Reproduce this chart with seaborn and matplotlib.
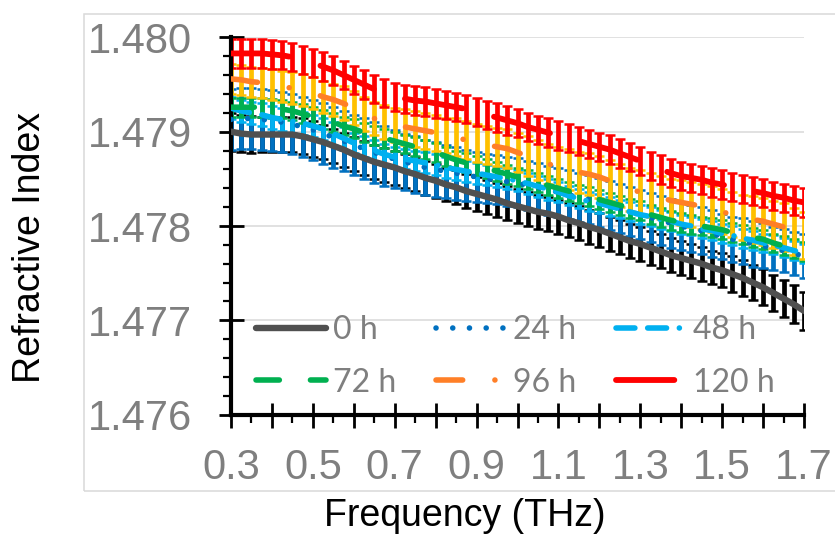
import numpy as np
import pandas as pd
import seaborn as sns
import matplotlib.pyplot as plt
from matplotlib.patches import Rectangle
from matplotlib.ticker import MultipleLocator

# frequency grid (THz)
freq = [0.300, 0.325, 0.350, 0.375, 0.400, 0.425, 0.450, 0.475, 0.500, 0.525,
        0.550, 0.575, 0.600, 0.625, 0.650, 0.675, 0.700, 0.725, 0.750, 0.775,
        0.800, 0.825, 0.850, 0.875, 0.900, 0.925, 0.950, 0.975, 1.000, 1.025,
        1.050, 1.075, 1.100, 1.125, 1.150, 1.175, 1.200, 1.225, 1.250, 1.275,
        1.300, 1.325, 1.350, 1.375, 1.400, 1.425, 1.450, 1.475, 1.500, 1.525,
        1.550, 1.575, 1.600, 1.625, 1.650, 1.675, 1.700]

# mean refractive index per series
n_0h = [1.47900, 1.47898, 1.47897, 1.47897, 1.47897, 1.47897, 1.47897, 1.47895, 1.47892, 1.47889,
        1.47885, 1.47881, 1.47876, 1.47872, 1.47868, 1.47865, 1.47862, 1.47858, 1.47855, 1.47851,
        1.47848, 1.47844, 1.47841, 1.47837, 1.47834, 1.47831, 1.47828, 1.47824, 1.47821, 1.47818,
        1.47815, 1.47813, 1.47810, 1.47806, 1.47803, 1.47799, 1.47796, 1.47792, 1.47788, 1.47784,
        1.47781, 1.47777, 1.47773, 1.47769, 1.47766, 1.47763, 1.47760, 1.47756, 1.47753, 1.47749,
        1.47745, 1.47740, 1.47735, 1.47729, 1.47723, 1.47717, 1.47710]
n_24h = [1.47913, 1.47914, 1.47914, 1.47913, 1.47912, 1.47910, 1.47908, 1.47905, 1.47902, 1.47898,
         1.47894, 1.47890, 1.47886, 1.47882, 1.47878, 1.47874, 1.47871, 1.47868, 1.47865, 1.47862,
         1.47860, 1.47858, 1.47856, 1.47854, 1.47852, 1.47850, 1.47849, 1.47847, 1.47846, 1.47843,
         1.47841, 1.47838, 1.47836, 1.47833, 1.47830, 1.47828, 1.47825, 1.47822, 1.47819, 1.47815,
         1.47812, 1.47809, 1.47806, 1.47803, 1.47800, 1.47797, 1.47795, 1.47792, 1.47789, 1.47786,
         1.47784, 1.47781, 1.47779, 1.47776, 1.47774, 1.47771, 1.47768]
n_48h = [1.47925, 1.47922, 1.47920, 1.47918, 1.47915, 1.47913, 1.47911, 1.47909, 1.47906, 1.47903,
         1.47898, 1.47893, 1.47888, 1.47884, 1.47880, 1.47876, 1.47873, 1.47871, 1.47869, 1.47867,
         1.47865, 1.47862, 1.47860, 1.47858, 1.47856, 1.47854, 1.47852, 1.47850, 1.47848, 1.47845,
         1.47842, 1.47839, 1.47836, 1.47832, 1.47829, 1.47826, 1.47824, 1.47821, 1.47818, 1.47815,
         1.47812, 1.47810, 1.47807, 1.47805, 1.47802, 1.47800, 1.47797, 1.47795, 1.47792, 1.47790,
         1.47787, 1.47785, 1.47782, 1.47780, 1.47777, 1.47774, 1.47771]
n_72h = [1.47926, 1.47926, 1.47926, 1.47926, 1.47925, 1.47924, 1.47922, 1.47919, 1.47916, 1.47913,
         1.47910, 1.47906, 1.47903, 1.47899, 1.47896, 1.47893, 1.47890, 1.47887, 1.47884, 1.47881,
         1.47878, 1.47874, 1.47870, 1.47867, 1.47864, 1.47861, 1.47858, 1.47855, 1.47852, 1.47849,
         1.47846, 1.47843, 1.47840, 1.47837, 1.47834, 1.47831, 1.47828, 1.47825, 1.47822, 1.47819,
         1.47816, 1.47812, 1.47809, 1.47806, 1.47804, 1.47802, 1.47800, 1.47798, 1.47796, 1.47793,
         1.47791, 1.47788, 1.47786, 1.47782, 1.47779, 1.47776, 1.47773]
n_96h = [1.47956, 1.47955, 1.47953, 1.47952, 1.47950, 1.47948, 1.47946, 1.47944, 1.47941, 1.47937,
         1.47934, 1.47930, 1.47925, 1.47919, 1.47914, 1.47910, 1.47907, 1.47905, 1.47903, 1.47901,
         1.47899, 1.47896, 1.47894, 1.47891, 1.47888, 1.47886, 1.47884, 1.47882, 1.47878, 1.47874,
         1.47870, 1.47866, 1.47862, 1.47860, 1.47857, 1.47855, 1.47852, 1.47848, 1.47843, 1.47839,
         1.47836, 1.47833, 1.47830, 1.47827, 1.47825, 1.47823, 1.47821, 1.47818, 1.47815, 1.47812,
         1.47809, 1.47807, 1.47805, 1.47802, 1.47799, 1.47794, 1.47790]
n_120h = [1.47983, 1.47983, 1.47983, 1.47983, 1.47982, 1.47981, 1.47979, 1.47976, 1.47973, 1.47969,
          1.47965, 1.47960, 1.47955, 1.47950, 1.47945, 1.47941, 1.47937, 1.47935, 1.47933, 1.47932,
          1.47930, 1.47928, 1.47926, 1.47924, 1.47921, 1.47918, 1.47915, 1.47912, 1.47909, 1.47905,
          1.47902, 1.47899, 1.47896, 1.47893, 1.47890, 1.47887, 1.47884, 1.47881, 1.47877, 1.47873,
          1.47869, 1.47864, 1.47860, 1.47856, 1.47853, 1.47851, 1.47849, 1.47846, 1.47844, 1.47841,
          1.47839, 1.47837, 1.47835, 1.47832, 1.47830, 1.47827, 1.47825]

# error bar half-heights, in units of 1e-5
err_0h = [20, 20, 20, 19, 19, 19, 19, 19, 19, 18,
          18, 18, 18, 18, 18, 18, 18, 18, 18, 18,
          18, 18, 18, 18, 18, 18, 18, 18, 18, 18,
          18, 18, 18, 18, 18, 18, 18, 18, 18, 18,
          18, 18, 18, 18, 18, 18, 18, 18, 18, 19,
          19, 19, 19, 19, 20, 20, 20]
err_24h = [32, 32, 32, 32, 32, 32, 32, 32, 32, 32,
           32, 32, 32, 32, 32, 32, 31, 30, 30, 29,
           29, 28, 28, 27, 27, 26, 26, 26, 26, 26,
           26, 26, 26, 26, 26, 26, 26, 26, 26, 26,
           26, 26, 26, 26, 25, 25, 25, 25, 24, 24,
           24, 24, 24, 23, 23, 23, 23]
err_48h = [12, 12, 12, 12, 12, 12, 12, 12, 12, 12,
           12, 12, 11, 11, 11, 11, 11, 11, 11, 11,
           11, 11, 11, 11, 11, 11, 11, 11, 11, 11,
           11, 11, 11, 10, 10, 10, 10, 10, 10, 10,
           10, 10, 10, 10, 10, 10, 10, 10, 10, 10,
           10, 10, 10, 10, 10, 10, 10]
err_72h = [10, 10, 10, 10, 10, 10, 10, 10, 10, 10,
           10, 10, 10, 10, 10, 10, 10, 10, 10, 10,
           10, 10, 10, 10, 10, 10, 10, 10, 10, 10,
           10, 10, 10, 10, 10, 10, 10, 10, 10, 10,
           10, 10, 10, 10, 10, 10, 10, 10, 10, 10,
           10, 10, 10, 10, 10, 10, 10]
err_96h = [16, 16, 16, 16, 16, 16, 17, 17, 17, 17,
           17, 18, 18, 18, 18, 18, 18, 19, 19, 19,
           19, 19, 20, 20, 20, 20, 20, 21, 21, 21,
           21, 21, 22, 22, 22, 22, 22, 22, 23, 23,
           23, 23, 23, 23, 24, 24, 24, 24, 24, 24,
           24, 25, 25, 25, 25, 25, 25]
err_120h = [15, 15, 15, 15, 15, 15, 15, 15, 15, 15,
            15, 15, 15, 15, 15, 15, 15, 15, 15, 15,
            15, 15, 15, 15, 15, 15, 15, 15, 15, 15,
            15, 15, 15, 15, 15, 15, 15, 15, 15, 15,
            15, 15, 15, 15, 15, 15, 15, 15, 15, 15,
            15, 15, 15, 15, 15, 15, 15]

labels = ['0 h', '24 h', '48 h', '72 h', '96 h', '120 h']
xticks = [0.3, 0.4, 0.5, 0.6, 0.7, 0.8, 0.9, 1.0, 1.1, 1.2, 1.3, 1.4, 1.5, 1.6, 1.7]
xtick_labels = ['0.3', '', '0.5', '', '0.7', '', '0.9', '', '1.1', '', '1.3', '', '1.5', '', '1.7']
yticks = [1.476, 1.477, 1.478, 1.479, 1.480]
ytick_labels = ['1.476', '1.477', '1.478', '1.479', '1.480']

line_colors = ['#505050', '#0070C0', '#00B0F0', '#00B050', '#FF7F27', '#FF0000']
bar_colors = ['#000000', '#0070C0', '#00B0F0', '#00B050', '#FFC000', '#FF0000']
dash_map = {'0 h': '', '24 h': (0.01, 3.0), '48 h': (3.4, 2.3, 3.4, 2.3, 0.01, 2.3),
            '72 h': (4.2, 5.6), '96 h': (4.8, 5.8, 0.01, 5.8), '120 h': (10.0, 5.6)}
width_map = {'0 h': 4.6, '24 h': 4.0, '48 h': 4.0, '72 h': 4.0, '96 h': 4.0, '120 h': 4.2}

means = [n_0h, n_24h, n_48h, n_72h, n_96h, n_120h]
errs = [err_0h, err_24h, err_48h, err_72h, err_96h, err_120h]
df = pd.concat([pd.DataFrame({'Frequency': freq, 'n': m, 'err': np.array(e) * 1e-5, 'series': lab})
                for lab, m, e in zip(labels, means, errs)], ignore_index=True)

sns.set_style('white')
plt.rcParams['font.family'] = ['Liberation Sans', 'DejaVu Sans']

W, H = 835, 535
fig = plt.figure(figsize=(W / 100, H / 100), dpi=100)
ax = fig.add_axes([231 / W, 1 - 414.6 / H, (804 - 231) / W, (414.6 - 37.4) / H])

# error bars under all lines
for lab, bc in zip(labels, bar_colors):
    d = df[df['series'] == lab]
    ax.errorbar(d['Frequency'], d['n'], yerr=d['err'], fmt='none', ecolor=bc,
                elinewidth=3.4, capsize=3.6, capthick=1.8, zorder=2)

n_before = len(ax.lines)
sns.lineplot(data=df, x='Frequency', y='n', hue='series', style='series', size='series',
             hue_order=labels, style_order=labels, size_order=labels,
             palette=dict(zip(labels, line_colors)), dashes=dash_map, sizes=width_map,
             estimator=None, legend=False, ax=ax, zorder=3)
series_lines = ax.lines[n_before:]
for ln in series_lines:
    ln.set_dash_capstyle('round')
    ln.set_solid_capstyle('round')

order = [0, 3, 1, 4, 2, 5]
ax.legend([series_lines[i] for i in order], [labels[i] for i in order], ncol=3,
          loc='lower left', bbox_to_anchor=(0.044, 0.045), frameon=False,
          prop={'family': 'Lato', 'size': 23}, labelcolor='#7F7F7F',
          handlelength=2.2, handletextpad=0.2, columnspacing=1.25, labelspacing=0.7,
          borderpad=0, borderaxespad=0)

ax.set_xlim(0.3, 1.7)
ax.set_ylim(1.476, 1.480)
ax.set_xticks(xticks)
ax.set_xticklabels(xtick_labels)
ax.set_yticks(yticks)
ax.set_yticklabels(ytick_labels)
ax.xaxis.set_minor_locator(MultipleLocator(0.05))
ax.yaxis.set_minor_locator(MultipleLocator(0.0002))
ax.tick_params(which='both', bottom=True, left=True, colors='black')
ax.tick_params(which='major', direction='inout', length=18, width=2,
               labelcolor='#7F7F7F', labelsize=30)
ax.tick_params(axis='y', which='major', pad=19)
ax.tick_params(axis='x', which='major', pad=15)
ax.tick_params(which='minor', direction='out', length=6, width=1.6)

for side in ['top', 'right']:
    ax.spines[side].set_visible(False)
for side in ['left', 'bottom']:
    ax.spines[side].set_color('black')
    ax.spines[side].set_linewidth(3)

ax.yaxis.grid(True, color='#D9D9D9', lw=1.1)
ax.set_axisbelow(True)

ax.set_xlabel('Frequency (THz)', fontsize=27, color='black')
ax.xaxis.label.set_va('center')
ax.xaxis.set_label_coords(0.408, -0.269)
ax.set_ylabel('Refractive Index', fontsize=27, color='black')
ax.yaxis.label.set_va('center')
ax.yaxis.set_label_coords(-0.351, 0.444)

# light chart-area border
fig.patches.append(Rectangle((84 / W, 1 - 491 / H), 1.0, (491 - 13.5) / H,
                             transform=fig.transFigure, fill=False,
                             ec='#D9D9D9', lw=1.1, zorder=0))

fig.savefig('out.png', dpi=100)
